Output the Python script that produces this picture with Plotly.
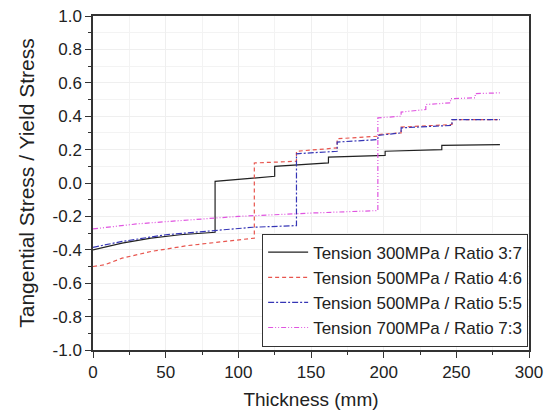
import plotly.graph_objects as go

# Data (thickness in mm, stress ratio)
names = ["Tension 300MPa / Ratio 3:7", "Tension 500MPa / Ratio 4:6",
         "Tension 500MPa / Ratio 5:5", "Tension 700MPa / Ratio 7:3"]

x_300_37 = [0, 20, 40, 60, 84, 84, 125, 125, 162, 162, 201, 201, 240, 240, 280]
y_300_37 = [-0.40, -0.36, -0.33, -0.31, -0.295, 0.01, 0.04, 0.10, 0.12, 0.155, 0.165, 0.19, 0.20, 0.225, 0.23]

x_500_46 = [0, 8, 20, 40, 65, 90, 111, 111, 125, 140, 140, 168, 168, 196, 196, 212, 212, 247, 247, 280]
y_500_46 = [-0.50, -0.49, -0.45, -0.41, -0.375, -0.35, -0.33, 0.12, 0.125, 0.13, 0.19, 0.21, 0.265, 0.28, 0.29, 0.30, 0.335, 0.35, 0.38, 0.38]

x_500_55 = [0, 20, 50, 84, 110, 140, 140, 168, 168, 196, 196, 212, 212, 247, 247, 280]
y_500_55 = [-0.385, -0.35, -0.31, -0.285, -0.265, -0.255, 0.175, 0.19, 0.245, 0.26, 0.285, 0.30, 0.33, 0.345, 0.38, 0.38]

x_700_73 = [0, 30, 60, 100, 150, 196, 196, 212, 212, 229, 229, 246, 246, 263, 263, 280]
y_700_73 = [-0.275, -0.245, -0.225, -0.20, -0.18, -0.165, 0.39, 0.40, 0.425, 0.44, 0.47, 0.48, 0.505, 0.51, 0.535, 0.54]

x_ticks = [0, 50, 100, 150, 200, 250, 300]
y_ticks = [-1.0, -0.8, -0.6, -0.4, -0.2, 0.0, 0.2, 0.4, 0.6, 0.8, 1.0]
y_tick_labels = ["-1.0", "-0.8", "-0.6", "-0.4", "-0.2", "0.0", "0.2", "0.4", "0.6", "0.8", "1.0"]

xs = [x_300_37, x_500_46, x_500_55, x_700_73]
ys = [y_300_37, y_500_46, y_500_55, y_700_73]
colors = ["#222222", "#e8554e", "#3535b5", "#e055e0"]
dashes = ["solid", "4px,3px", "6px,2px,2px,2px", "5px,2px,1px,2px,1px,2px"]

FONT = "Liberation Sans, Arial"

fig = go.Figure()
for n, x, y, c, d in zip(names, xs, ys, colors, dashes):
    fig.add_trace(go.Scatter(x=x, y=y, mode="lines", name=n,
                             line=dict(color=c, width=1.2, dash=d)))

axis_common = dict(
    showline=True, linecolor="#333333", linewidth=1.5, mirror=True,
    ticks="outside", ticklen=6, tickwidth=1, tickcolor="#333333",
    showgrid=True, gridcolor="#efefef", gridwidth=1, zeroline=False,
    automargin=False,
    tickfont=dict(family=FONT, size=17, color="#222222"),
)

fig.update_xaxes(range=[0, 300], tickvals=x_ticks,
                 minor=dict(dtick=25, tick0=0, ticks="outside", ticklen=3, tickcolor="#333333",
                            showgrid=True, gridcolor="#f3f3f3"),
                 title=dict(text="Thickness (mm)", font=dict(family=FONT, size=19, color="#222222"),
                            standoff=12),
                 **axis_common)
fig.update_yaxes(range=[-1.0, 1.0], tickvals=y_ticks, ticktext=y_tick_labels,
                 minor=dict(dtick=0.1, tick0=0, ticks="outside", ticklen=3, tickcolor="#333333",
                            showgrid=True, gridcolor="#f3f3f3"),
                 title=dict(text="Tangential Stress / Yield Stress",
                            font=dict(family=FONT, size=21, color="#222222"),
                            standoff=12),
                 **axis_common)

fig.update_layout(
    width=545, height=416,
    margin=dict(l=93, r=16, t=16, b=66),
    paper_bgcolor="white", plot_bgcolor="white",
    showlegend=True,
    legend=dict(x=0.998, y=0.01, xanchor="right", yanchor="bottom",
                bgcolor="white", bordercolor="#333333", borderwidth=1,
                font=dict(family=FONT, size=17, color="#222222"),
                tracegroupgap=0, itemwidth=40),
)

fig.write_html("out.html")
